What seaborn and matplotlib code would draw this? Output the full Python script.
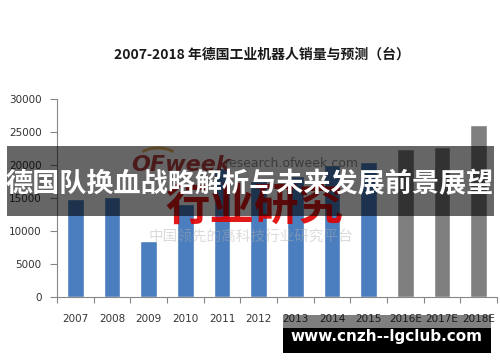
import matplotlib
matplotlib.use("Agg")
import matplotlib.pyplot as plt
import seaborn as sns
import pandas as pd
from matplotlib.patches import Rectangle, Arc

# ---- data ----
years = ["2007", "2008", "2009", "2010", "2011", "2012", "2013", "2014",
         "2015", "2016E", "2017E", "2018E"]
sales = [14800, 15100, 8550, 14100, 19500, 17500, 18300, 20000,
         20500, 22400, 22700, 26050]
kind = ["actual"] * 9 + ["forecast"] * 3
yticks = [0, 5000, 10000, 15000, 20000, 25000, 30000]
title = "2007-2018 年德国工业机器人销量与预测（台）"
banner = "德国队换血战略解析与未来发展前景展望"
site = "www.cnzh--lgclub.com"

df = pd.DataFrame({"year": years, "sales": sales, "kind": kind})

sns.set_theme(style="white")
plt.rcParams["font.family"] = ["DejaVu Sans", "Noto Sans CJK SC"]

W, H = 500, 362
fig = plt.figure(figsize=(W / 100, H / 100), dpi=100)
fig.patch.set_facecolor("white")


def px(x, y):
    return x / W, 1 - y / H


ax = fig.add_axes([57 / W, 1 - 297 / H, (497 - 57) / W, (297 - 99) / H])
sns.barplot(data=df, x="year", y="sales", hue="kind",
            palette={"actual": "#4A7EBF", "forecast": "#7F7F7F"},
            width=0.46, saturation=1, legend=False, ax=ax, zorder=2)

ax.set_xlim(-0.5, len(years) - 0.5)
ax.set_ylim(0, 30000)
ax.set_yticks(yticks)
ax.set_yticklabels([str(v) for v in yticks])
ax.set_xlabel("")
ax.set_ylabel("")
for s in ["top", "right"]:
    ax.spines[s].set_visible(False)
for s in ["left", "bottom"]:
    ax.spines[s].set_color("#868686")
    ax.spines[s].set_linewidth(0.8)
ax.tick_params(axis="y", which="major", length=5, width=0.8, color="#868686",
               labelsize=7.5, labelcolor="#333333", pad=6, left=True)
ax.tick_params(axis="x", which="major", length=0, labelsize=7.5,
               labelcolor="#333333", pad=12)
ax.set_xticks([i - 0.5 for i in range(len(years) + 1)], minor=True)
ax.tick_params(axis="x", which="minor", length=4, width=0.8,
               color="#868686", bottom=True)
ax.grid(False)
ax.set_facecolor("white")

# title
fig.text(*px(262, 55), title, ha="center", va="center", fontsize=10,
         fontweight="bold", color="#1a1a1a",
         family=["Noto Sans CJK SC", "DejaVu Sans"])

# watermark
fig.add_artist(Arc(px(158, 156), 36 / W, 16 / H, theta1=20, theta2=160,
                   color="#E0A030", lw=2, alpha=0.8,
                   transform=fig.transFigure, zorder=5))
fig.text(*px(181, 165), "OFweek", ha="center", va="center", fontsize=16,
         fontweight="bold", style="italic", color="#B22222", alpha=0.85,
         zorder=5)
fig.text(*px(292, 164), "research.ofweek.com", ha="center", va="center",
         fontsize=9, color="#777777", alpha=0.8, zorder=5)
fig.text(*px(254, 207), "行业研究", ha="center", va="center", fontsize=32,
         fontweight="bold", color="#E00000", alpha=0.9, zorder=5,
         family=["Noto Sans CJK SC"])
fig.text(*px(251, 238), "中国领先的高科技行业研究平台", ha="center",
         va="center", fontsize=10.5, color="#B0B0B0", alpha=0.45, zorder=5,
         family=["Noto Sans CJK SC"])

# dark banner
fig.add_artist(Rectangle(px(7, 216), 487 / W, 70 / H, facecolor="black",
                         alpha=0.6, edgecolor="none",
                         transform=fig.transFigure, zorder=10))
fig.text(*px(250, 184), banner, ha="center", va="center", fontsize=19.5,
         fontweight="bold", color="white", zorder=11,
         family=["Noto Sans CJK SC"])

# site box
fig.add_artist(Rectangle(px(283, 328), 208 / W, 13 / H, facecolor="black",
                         alpha=0.5, edgecolor="none",
                         transform=fig.transFigure, zorder=10))
fig.add_artist(Rectangle(px(283, 353), 208 / W, 25 / H, facecolor="black",
                         edgecolor="none", transform=fig.transFigure,
                         zorder=10))
fig.text(*px(386, 336), site, ha="center", va="center", fontsize=11,
         fontweight="bold", color="white", zorder=11)

fig.savefig("out.png", dpi=100, facecolor="white")
